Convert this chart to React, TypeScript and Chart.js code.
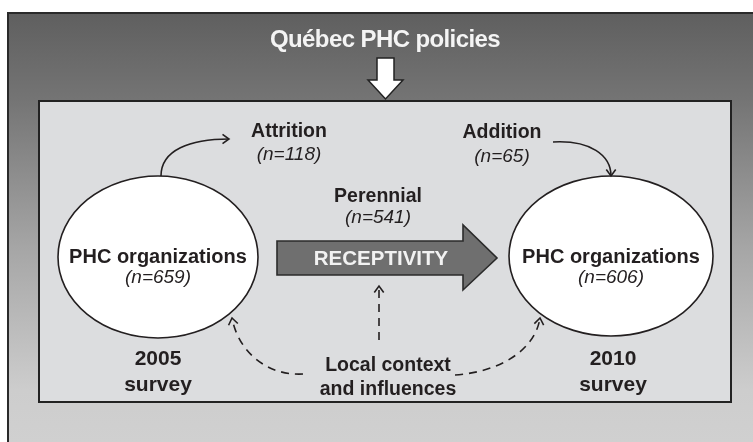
import React, { useEffect, useRef } from "react";
import { Chart, registerables } from "chart.js";

Chart.register(...registerables);

// ---- content (data) ----
const titleText = "Québec PHC policies";
const surveyYears = ["2005", "2010"];
const surveyWord = "survey";
const organizationLabel = "PHC organizations";
const organizationCounts = [659, 606];
const flowLabels = ["Attrition", "Perennial", "Addition"];
const flowCounts = [118, 541, 65];
const centralLabel = "RECEPTIVITY";
const contextLines = ["Local context", "and influences"];

// ---- layout (value space = 753 x 442) ----
const W = 753;
const H = 442;
const LAYOUT = {
  outer: { x: 8, y: 13 },
  inner: { x1: 39, y1: 101, x2: 731, y2: 402 },
  title: { x: 385, y: 47 },
  downArrow: { cx: 385.5, shaftHalf: 8.5, top: 58, headY: 80, headHalf: 17.5, tip: 99 },
  ellipses: [
    { cx: 158, cy: 257, rx: 100, ry: 81 },
    { cx: 611, cy: 256, rx: 102, ry: 80 },
  ],
  orgText: { labelY: 263, countY: 283 },
  yearText: { yearY: 365, surveyY: 391 },
  flows: [
    { x: 289, y1: 137, y2: 160 },
    { x: 378, y1: 202, y2: 223 },
    { x: 502, y1: 138, y2: 162 },
  ],
  bigArrow: { x0: 277, top: 241, bottom: 275, headX: 463, headTop: 225, headBottom: 290, tipX: 497 },
  bigArrowText: { x: 381, y: 265 },
  context: { x: 388, y1: 371, y2: 395 },
};

const FONT = '"Liberation Sans", Arial, Helvetica, sans-serif';
const INK = "#231f20";

function diagramPlugin() {
  return {
    id: "diagram",
    beforeDatasetsDraw(chart: any) {
      const ctx: CanvasRenderingContext2D = chart.ctx;
      const xs = chart.scales.x;
      const ys = chart.scales.y;
      const px = (v: number) => xs.getPixelForValue(v);
      const py = (v: number) => ys.getPixelForValue(v);
      const sx = (d: number) => px(d) - px(0);
      const sy = (d: number) => py(d) - py(0);

      ctx.save();

      // outer gradient panel
      const o = LAYOUT.outer;
      const g = ctx.createLinearGradient(0, py(o.y), 0, py(H));
      g.addColorStop(0, "#5f5f5f");
      g.addColorStop(0.2, "#747474");
      g.addColorStop(0.55, "#a6a6a6");
      g.addColorStop(0.88, "#cdcdcd");
      g.addColorStop(1, "#d0d0d0");
      ctx.fillStyle = g;
      ctx.fillRect(px(o.x), py(o.y), px(W + 10) - px(o.x), py(H + 10) - py(o.y));
      ctx.strokeStyle = "#2a2a2a";
      ctx.lineWidth = 2;
      ctx.strokeRect(px(o.x), py(o.y), px(W + 10) - px(o.x), py(H + 10) - py(o.y));

      // title
      ctx.fillStyle = "#f4f4f4";
      ctx.font = `bold 24px ${FONT}`;
      (ctx as any).letterSpacing = "-0.6px";
      ctx.textAlign = "center";
      ctx.textBaseline = "alphabetic";
      ctx.fillText(titleText, px(LAYOUT.title.x), py(LAYOUT.title.y));
      (ctx as any).letterSpacing = "0px";

      // inner box
      const ib = LAYOUT.inner;
      ctx.fillStyle = "#dcdddf";
      ctx.fillRect(px(ib.x1), py(ib.y1), px(ib.x2) - px(ib.x1), py(ib.y2) - py(ib.y1));
      ctx.strokeStyle = "#222";
      ctx.lineWidth = 2;
      ctx.strokeRect(px(ib.x1), py(ib.y1), px(ib.x2) - px(ib.x1), py(ib.y2) - py(ib.y1));

      // white down arrow
      const d = LAYOUT.downArrow;
      ctx.beginPath();
      ctx.moveTo(px(d.cx - d.shaftHalf), py(d.top));
      ctx.lineTo(px(d.cx + d.shaftHalf), py(d.top));
      ctx.lineTo(px(d.cx + d.shaftHalf), py(d.headY));
      ctx.lineTo(px(d.cx + d.headHalf), py(d.headY));
      ctx.lineTo(px(d.cx), py(d.tip));
      ctx.lineTo(px(d.cx - d.headHalf), py(d.headY));
      ctx.lineTo(px(d.cx - d.shaftHalf), py(d.headY));
      ctx.closePath();
      ctx.fillStyle = "#ffffff";
      ctx.fill();
      ctx.strokeStyle = "#222";
      ctx.lineWidth = 1.5;
      ctx.stroke();

      // ellipses
      LAYOUT.ellipses.forEach((e, i) => {
        ctx.beginPath();
        ctx.ellipse(px(e.cx), py(e.cy), Math.abs(sx(e.rx)), Math.abs(sy(e.ry)), 0, 0, Math.PI * 2);
        ctx.fillStyle = "#ffffff";
        ctx.fill();
        ctx.strokeStyle = INK;
        ctx.lineWidth = 1.6;
        ctx.stroke();

        ctx.fillStyle = INK;
        ctx.textAlign = "center";
        ctx.font = `bold 20px ${FONT}`;
        ctx.fillText(organizationLabel, px(e.cx), py(LAYOUT.orgText.labelY));
        ctx.font = `italic 19px ${FONT}`;
        ctx.fillText(`(n=${organizationCounts[i]})`, px(e.cx), py(LAYOUT.orgText.countY));

        ctx.font = `bold 21px ${FONT}`;
        ctx.fillText(surveyYears[i], px(e.cx + (i === 1 ? 2 : 0)), py(LAYOUT.yearText.yearY));
        ctx.fillText(surveyWord, px(e.cx + (i === 1 ? 2 : 0)), py(LAYOUT.yearText.surveyY));
      });

      // flow labels
      LAYOUT.flows.forEach((f, i) => {
        ctx.fillStyle = INK;
        ctx.textAlign = "center";
        ctx.font = `bold 19.5px ${FONT}`;
        ctx.fillText(flowLabels[i], px(f.x), py(f.y1));
        ctx.font = `italic 19px ${FONT}`;
        ctx.fillText(`(n=${flowCounts[i]})`, px(f.x), py(f.y2));
      });

      // big receptivity arrow
      const b = LAYOUT.bigArrow;
      const mid = (b.top + b.bottom) / 2;
      ctx.beginPath();
      ctx.moveTo(px(b.x0), py(b.top));
      ctx.lineTo(px(b.headX), py(b.top));
      ctx.lineTo(px(b.headX), py(b.headTop));
      ctx.lineTo(px(b.tipX), py(mid));
      ctx.lineTo(px(b.headX), py(b.headBottom));
      ctx.lineTo(px(b.headX), py(b.bottom));
      ctx.lineTo(px(b.x0), py(b.bottom));
      ctx.closePath();
      ctx.fillStyle = "#6f6f6f";
      ctx.fill();
      ctx.strokeStyle = "#2b2b2b";
      ctx.lineWidth = 1.6;
      ctx.stroke();
      ctx.fillStyle = "#f2f2f2";
      ctx.font = `bold 20.5px ${FONT}`;
      ctx.fillText(centralLabel, px(LAYOUT.bigArrowText.x), py(LAYOUT.bigArrowText.y));

      // context text
      ctx.fillStyle = INK;
      ctx.font = `bold 19.5px ${FONT}`;
      ctx.fillText(contextLines[0], px(LAYOUT.context.x), py(LAYOUT.context.y1));
      ctx.fillText(contextLines[1], px(LAYOUT.context.x), py(LAYOUT.context.y2));

      // connectors
      const head = (tx: number, ty: number, fx: number, fy: number) => {
        const a = Math.atan2(py(ty) - py(fy), px(tx) - px(fx));
        const len = 8;
        const spread = Math.PI / 5;
        ctx.save();
        ctx.setLineDash([]);
        ctx.beginPath();
        ctx.moveTo(px(tx) - len * Math.cos(a - spread), py(ty) - len * Math.sin(a - spread));
        ctx.lineTo(px(tx), py(ty));
        ctx.lineTo(px(tx) - len * Math.cos(a + spread), py(ty) - len * Math.sin(a + spread));
        ctx.stroke();
        ctx.restore();
      };
      const curve = (p: number[], dashed: boolean) => {
        ctx.beginPath();
        ctx.setLineDash(dashed ? [8, 6] : []);
        ctx.moveTo(px(p[0]), py(p[1]));
        ctx.bezierCurveTo(px(p[2]), py(p[3]), px(p[4]), py(p[5]), px(p[6]), py(p[7]));
        ctx.stroke();
        head(p[6], p[7], p[4], p[5]);
      };
      ctx.strokeStyle = INK;
      ctx.lineWidth = 1.6;
      ctx.lineCap = "butt";
      // attrition
      curve([161, 176, 161, 150, 190, 139, 229, 139], false);
      // addition
      curve([553, 142, 590, 140, 611, 155, 611, 176], false);
      // context -> left
      curve([303, 374, 265, 376, 238, 350, 232, 318], true);
      // context -> right
      curve([455, 375, 500, 372, 535, 350, 540, 318], true);
      // context -> up
      ctx.beginPath();
      ctx.setLineDash([8, 6]);
      ctx.moveTo(px(379), py(340));
      ctx.lineTo(px(379), py(287));
      ctx.stroke();
      head(379, 286, 379, 300);

      ctx.restore();
    },
  };
}

export default function App() {
  const ref = useRef<HTMLCanvasElement | null>(null);
  useEffect(() => {
    document.body.style.margin = "0";
    const canvas = ref.current;
    if (!canvas) return;
    const chart = new Chart(canvas, {
      type: "scatter",
      data: { datasets: [{ data: [], pointRadius: 0 }] },
      options: {
        animation: false,
        responsive: false,
        maintainAspectRatio: false,
        devicePixelRatio: 1,
        layout: { padding: 0 },
        events: [],
        scales: {
          x: { type: "linear", min: 0, max: W, display: false },
          y: { type: "linear", min: 0, max: H, reverse: true, display: false },
        },
        plugins: { legend: { display: false }, tooltip: { enabled: false }, title: { display: false } },
      },
      plugins: [diagramPlugin()],
    });
    return () => chart.destroy();
  }, []);
  return (
    <div style={{ width: W, height: H, background: "#ffffff" }}>
      <canvas ref={ref} width={W} height={H} style={{ display: "block", width: W, height: H }} />
    </div>
  );
}
